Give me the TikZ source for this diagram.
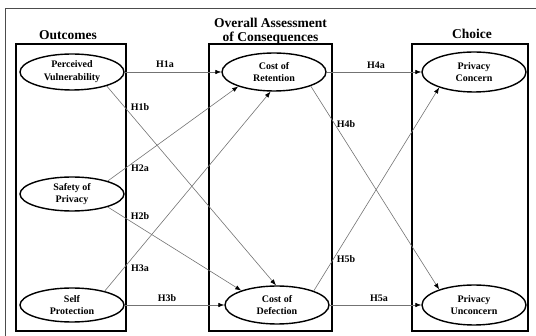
\documentclass[tikz,border=0pt]{standalone}
\usepackage{fontspec}
\setmainfont{Liberation Serif}
\usetikzlibrary{arrows.meta,shapes.geometric}
\begin{document}
\begin{tikzpicture}[x=1pt,y=-1pt,
  ell/.style={draw, line width=1.4pt, ellipse, minimum width=104pt, minimum height=36pt, inner sep=0pt, align=center, font=\bfseries\fontsize{10}{12.8}\selectfont},
  lab/.style={font=\bfseries\fontsize{10}{11}\selectfont, inner sep=0pt},
  ttl/.style={font=\bfseries\fontsize{13.5}{15}\selectfont, inner sep=0pt},
  grp/.style={draw, line width=1.3pt},
  conn/.style={draw=black!55, line width=0.6pt, -{Latex[length=6pt,width=4.5pt,color=black]}}]
\useasboundingbox (0,0) rectangle (536,336);
\draw[line width=1pt, black!70] (5,9) rectangle (545,345);
% group boxes
\draw[grp] (16,44) rectangle (126,331);
\draw[grp] (209,44) rectangle (332,331);
\draw[grp] (412,44) rectangle (528,331);
% titles
\node[ttl] (t1) at (68,35) {Outcomes};
\node[ttl] (t2a) at (270.5,23) {Overall Assessment};
\node[ttl] (t2b) at (270.5,38) {of Consequences};
\node[ttl] (t3) at (472,34) {Choice};
% ellipses
\node[ell] (pv) at (72,72) {Perceived\\Vulnerability};
\node[ell, minimum height=34pt] (sf) at (72,194) {Safety of\\Privacy};
\node[ell, minimum height=34pt] (se) at (72,305) {Self\\Protection};
\node[ell, minimum width=104pt, minimum height=38pt] (cr) at (274,72) {Cost of\\Retention};
\node[ell, minimum width=104pt, minimum height=38pt] (cd) at (277,305) {Cost of\\Defection};
\node[ell, minimum height=40pt] (pc) at (474,72) {Privacy\\Concern};
\node[ell, minimum height=40pt] (pu) at (474,305) {Privacy\\Unconcern};
% connectors
\draw[conn] (pv.east) -- (cr.west);
\draw[conn] (pv.-22) -- (cd.93);
\draw[conn] (sf.20) -- (cr.-158);
\draw[conn] (sf.-20) -- (cd.158);
\draw[conn] (se.23) -- (cr.-100);
\draw[conn] (se.east) -- (cd.west);
\draw[conn] (cr.east) -- (pc.west);
\draw[conn] (cr.-21) -- (pu.156);
\draw[conn] (cd.21) -- (pc.-156);
\draw[conn] (cd.east) -- (pu.west);
% labels
\node[lab] (l1a) at (165,64) {H1a};
\node[lab] (l1b) at (140,107) {H1b};
\node[lab] (l2a) at (140,168) {H2a};
\node[lab] (l2b) at (140,216) {H2b};
\node[lab] (l3a) at (140,268) {H3a};
\node[lab] (l3b) at (167,298) {H3b};
\node[lab] (l4a) at (376,65) {H4a};
\node[lab] (l4b) at (346,124) {H4b};
\node[lab] (l5b) at (346,259) {H5b};
\node[lab] (l5a) at (379,298) {H5a};
\end{tikzpicture}
\end{document}
